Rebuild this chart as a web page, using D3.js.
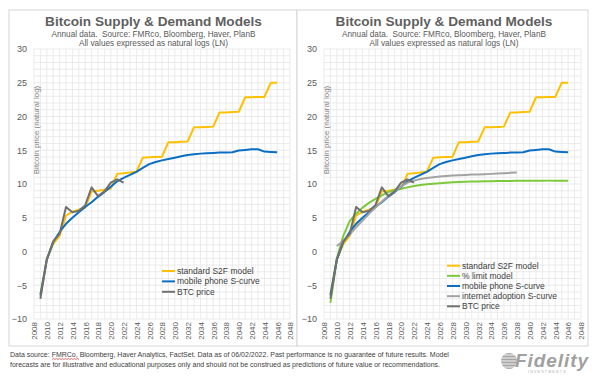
<!DOCTYPE html>
<html><head><meta charset="utf-8">
<script src="https://cdn.jsdelivr.net/npm/d3@7"></script>
<style>body{margin:0;background:#fff}svg{display:block;font-family:"Liberation Sans",Arial,sans-serif}text{white-space:pre}</style>
</head><body><svg id="c" width="600" height="379"></svg>
<script>
// ---- data ----
const years = [2009,2010,2011,2012,2013,2014,2015,2016,2017,2018,2019,2020,2021,2022,2023,2024,2025,2026,2027,2028,2029,2030,2031,2032,2033,2034,2035,2036,2037,2038,2039,2040,2041,2042,2043,2044,2045,2046];
const s2f = [-6.3,-1.1,1.1,2.3,5.3,5.9,6.2,6.5,8.9,9.0,9.15,9.3,11.5,11.6,11.7,11.8,13.9,13.95,14.0,14.05,16.2,16.2,16.25,16.3,18.4,18.4,18.45,18.5,20.6,20.6,20.65,20.7,22.85,22.85,22.9,22.9,25.0,25.0];
const phone = [-6.5,-1.2,1.4,2.9,4.1,5.0,5.8,6.6,7.3,8.1,8.8,9.6,10.4,10.9,11.35,11.8,12.4,12.95,13.25,13.5,13.7,13.9,14.1,14.3,14.4,14.5,14.55,14.6,14.65,14.65,14.7,14.95,15.05,15.15,15.15,14.8,14.75,14.7];
const pctLimit = [-7.6,-1.0,2.3,4.5,5.6,6.5,7.2,7.8,8.3,8.8,9.1,9.3,9.5,9.7,9.85,9.95,10.05,10.12,10.2,10.25,10.3,10.33,10.36,10.38,10.4,10.42,10.43,10.45,10.46,10.47,10.48,10.48,10.49,10.49,10.5,10.5,10.5,10.5];
const btcYears = [2009,2010,2011,2012,2013,2014,2015,2016,2017,2018,2019,2020,2021,2022];
const btc = [-7.0,-1.2,1.5,2.6,6.6,5.8,6.05,6.85,9.5,8.2,8.9,10.2,10.7,10.2];
const netYears = [2010,2011,2012,2013,2014,2015,2016,2017,2018,2019,2020,2021,2022,2023,2024,2025,2026,2027,2028,2029,2030,2031,2032,2033,2034,2035,2036,2037,2038];
const internet = [0.8,1.6,2.5,3.6,4.6,5.6,6.5,7.4,8.2,8.9,9.6,10.2,10.5,10.75,10.9,11.0,11.1,11.2,11.25,11.3,11.35,11.4,11.42,11.45,11.5,11.55,11.6,11.65,11.7];
const yTicks = [-10,-5,0,5,10,15,20,25,30];
const xTicks = [2008,2010,2012,2014,2016,2018,2020,2022,2024,2026,2028,2030,2032,2034,2036,2038,2040,2042,2044,2046,2048];
const title = "Bitcoin Supply & Demand Models";
const subtitle1 = "Annual data.  Source: FMRco, Bloomberg, Haver, PlanB";
const subtitle2 = "All values expressed as natural logs (LN)";
const yTitle = "Bitcoin price (natural log)";
const footnote1 = "Data source: FMRCo, Bloomberg, Haver Analytics, FactSet. Data as of 06/02/2022. Past performance is no guarantee of future results. Model";
const footnote2 = "forecasts are for illustrative and educational purposes only and should not be construed as predictions of future value or recommendations.";

const C = {s2f:"#FFC000", pct:"#7DC93C", phone:"#0A6EC2", net:"#A3A3A3", btc:"#707070"};

const svg = d3.select('#c');

function drawChart(o){
  const g = svg.append('g');
  g.append('rect').attr('x',o.bx).attr('y',10).attr('width',o.bw).attr('height',336)
    .attr('fill','#fff').attr('stroke','#D6D6D6').attr('stroke-width',1);
  const x = d3.scaleLinear().domain([2008,2048]).range([o.x0,o.x1]);
  const y = d3.scaleLinear().domain([-10,30]).range([319,49]);
  const grid = g.append('g').attr('stroke','#E6E6E6').attr('stroke-width',0.8);
  grid.selectAll('.v').data(d3.range(2008,2049)).join('line')
    .attr('x1',d=>x(d)).attr('x2',d=>x(d)).attr('y1',y(30)).attr('y2',y(-10));
  grid.selectAll('.h').data(d3.range(-10,31)).join('line')
    .attr('x1',x(2008)).attr('x2',x(2048)).attr('y1',d=>y(d)).attr('y2',d=>y(d));

  const ya = g.append('g').attr('transform',`translate(${o.x0-7},0)`)
    .call(d3.axisLeft(y).tickValues(yTicks).tickSize(0).tickPadding(0));
  ya.select('.domain').remove();
  ya.selectAll('text').attr('font-size',9).attr('fill','#595959').attr('font-family','"Liberation Sans",Arial,sans-serif');

  const xa = g.append('g').attr('transform',`translate(0,322)`)
    .call(d3.axisBottom(x).tickValues(xTicks).tickSize(0).tickFormat(d3.format('d')));
  xa.select('.domain').remove();
  xa.selectAll('text').attr('font-size',8).attr('fill','#595959').attr('font-family','"Liberation Sans",Arial,sans-serif')
    .attr('transform','rotate(-90)').attr('text-anchor','end').attr('x',0).attr('y',0).attr('dy','0.35em');

  g.append('text').attr('transform',`translate(${o.x0+5},130) rotate(-90)`).attr('text-anchor','middle')
    .attr('font-size',8).attr('fill','#7F7F7F').text(yTitle);

  g.append('text').attr('x',o.cx).attr('y',25.5).attr('text-anchor','middle').attr('font-size',13.6)
    .attr('font-weight','bold').attr('fill','#5F5F5F').text(title);
  g.append('text').attr('x',o.cx).attr('y',36.5).attr('text-anchor','middle').attr('font-size',8.2)
    .attr('fill','#595959').text(subtitle1);
  g.append('text').attr('x',o.cx).attr('y',45.5).attr('text-anchor','middle').attr('font-size',8.2)
    .attr('fill','#595959').text(subtitle2);

  const line = d3.line().x(d=>x(d[0])).y(d=>y(d[1]));
  o.series.forEach(s=>{
    g.append('path').datum(s.xs.map((yr,i)=>[yr,s.vals[i]])).attr('d',line)
      .attr('fill','none').attr('stroke',s.color).attr('stroke-width',2).attr('stroke-linejoin','round');
  });

  const lg = g.append('g').attr('transform',`translate(${o.lx},${o.ly})`);
  o.series.forEach((s,i)=>{
    const yy = i*o.lstep;
    lg.append('line').attr('x1',0).attr('x2',13).attr('y1',yy).attr('y2',yy).attr('stroke',s.color).attr('stroke-width',2);
    lg.append('text').attr('x',15).attr('y',yy).attr('dy','0.35em').attr('font-size',8.5).attr('fill','#404040').text(s.name);
  });
}

drawChart({bx:9,bw:288,x0:34,x1:290,cx:153.5,lx:162,ly:271,lstep:10.4,series:[
  {name:"standard S2F model",xs:years,vals:s2f,color:C.s2f},
  {name:"mobile phone S-curve",xs:years,vals:phone,color:C.phone},
  {name:"BTC price",xs:btcYears,vals:btc,color:C.btc}
]});
drawChart({bx:297,bw:291,x0:324,x1:581,cx:444,lx:447,ly:265.7,lstep:10.15,series:[
  {name:"standard S2F model",xs:years,vals:s2f,color:C.s2f},
  {name:"% limit model",xs:years,vals:pctLimit,color:C.pct},
  {name:"mobile phone S-curve",xs:years,vals:phone,color:C.phone},
  {name:"internet adoption S-curve",xs:netYears,vals:internet,color:C.net},
  {name:"BTC price",xs:btcYears,vals:btc,color:C.btc}
]});

// footnote
svg.append('text').attr('x',10).attr('y',357).attr('font-size',7).attr('fill','#404040').text(footnote1);
svg.append('text').attr('x',10).attr('y',367).attr('font-size',7).attr('fill','#404040').text(footnote2);
// spell-check squiggle under FMRCo
let sq = "M52,359.5";
for(let i=0;i<9;i++){ sq += ` l1.5,-1 l1.5,1`; }
svg.append('path').attr('d',sq).attr('fill','none').attr('stroke','#E03030').attr('stroke-width',0.7);

// Fidelity logo
const lg = svg.append('g');
lg.append('circle').attr('cx',509).attr('cy',361).attr('r',8).attr('fill','#A5A5A5');
[355,358,361,364,367].forEach(yy=>{
  lg.append('line').attr('x1',501).attr('x2',517).attr('y1',yy).attr('y2',yy).attr('stroke','#fff').attr('stroke-width',0.9);
});
lg.append('text').attr('x',515).attr('y',367).attr('font-size',19).attr('font-weight','bold').attr('font-style','italic')
  .attr('fill','#A0A0A0').attr('textLength',73).text('Fidelity');
lg.append('text').attr('x',528).attr('y',372.5).attr('font-size',3.6).attr('fill','#B0B0B0').attr('letter-spacing',1.2).text('INVESTMENTS');
</script></body></html>
